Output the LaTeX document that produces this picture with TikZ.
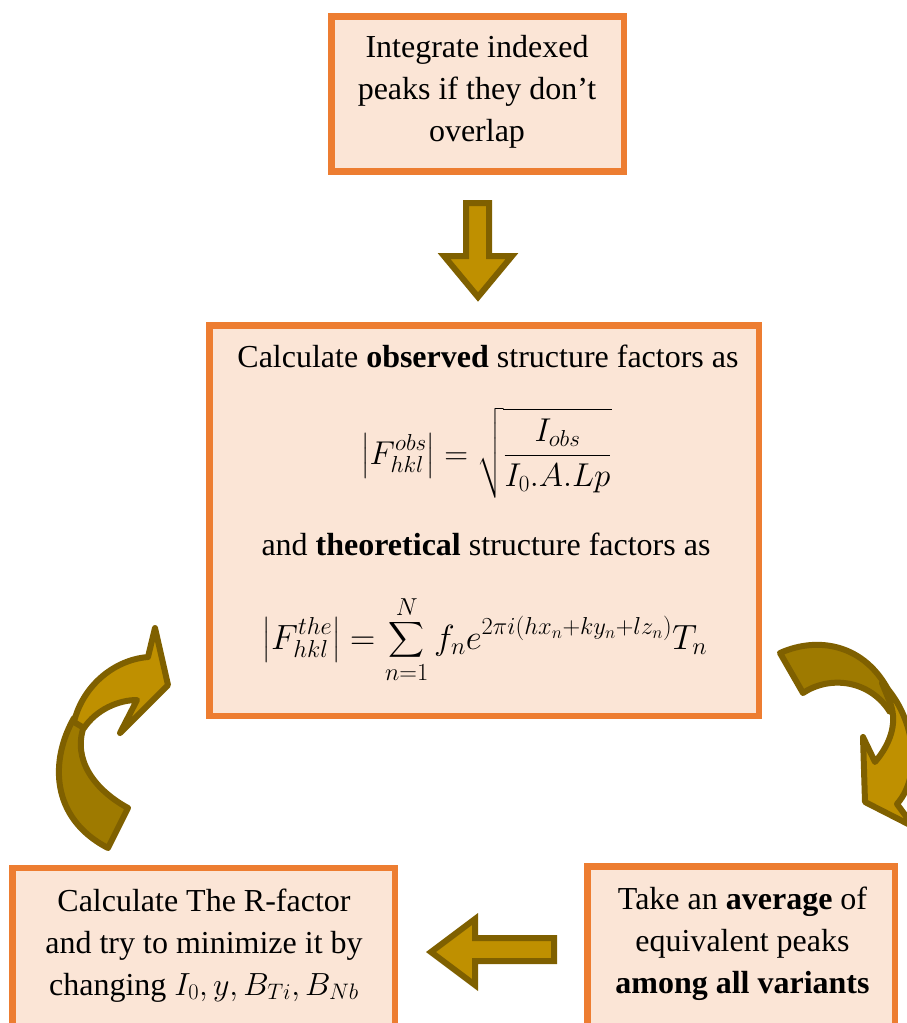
\RequirePackage{fix-cm}
\documentclass[tikz,border=0pt]{standalone}
\usepackage{amsmath}
\usepackage{fontspec}
\setmainfont{Liberation Serif}
\usetikzlibrary{positioning}
\definecolor{boxfill}{HTML}{FBE5D6}
\definecolor{boxline}{HTML}{ED7D31}
\definecolor{arrowfill}{HTML}{BF9000}
\definecolor{arrowdark}{HTML}{9E7A00}
\definecolor{arrowline}{HTML}{7F6000}
\tikzset{
  stepbox/.style={draw=boxline, fill=boxfill, line width=6.5pt, inner sep=0pt},
  blockarrow/.style={draw=arrowline, fill=arrowfill, line width=6pt},
  backarrow/.style={draw=arrowline, fill=arrowdark, line width=6pt, line join=round},
  txt/.style={font=\fontsize{32}{42}\selectfont, align=center, inner sep=0pt},
}

\begin{document}
\begin{tikzpicture}[x=1pt,y=-1pt]
\useasboundingbox (0,0) rectangle (907,1023);
\clip (0,0) rectangle (907,1023);
% the four steps
\node[stepbox, minimum width=292.5pt, minimum height=154.8pt] (integrate) at (477.75,94.1) {};
\node[stepbox, minimum width=549.5pt, minimum height=390.5pt] (calcF) at (484.25,520.75) {};
\node[stepbox, minimum width=382.3pt, minimum height=172pt] (rfactor) at (203.85,954) {};
\node[stepbox, minimum width=307.5pt, minimum height=173.5pt] (average) at (741.25,953.25) {};
% texts (base = last line)
\node[txt, anchor=base] (integrateTxt) at (477,141.7) {Integrate indexed\\peaks if they don't\\overlap};
\node[txt, anchor=base] (obsTxt) at (488,367) {Calculate \textbf{observed} structure factors as};
\node[txt, anchor=base, font=\fontsize{33}{42}\selectfont] (obsEq) at (486.5,464) {$\displaystyle \left|F_{hkl}^{obs}\right| = \sqrt{\frac{I_{obs}}{I_0.A.Lp}}$};
\node[txt, anchor=base] (theTxt) at (486,555) {and \textbf{theoretical} structure factors as};
\node[txt, anchor=base, font=\fontsize{35}{42}\selectfont] (theEq) at (485,649) {$\displaystyle \left|F_{hkl}^{the}\right| = \sum_{n=1}^{N} f_n e^{2\pi i(hx_n+ky_n+lz_n)} T_n$};
\node[txt, anchor=base] (rfactorTxt) at (204,995) {Calculate The R-factor\\and try to minimize it by\\changing $I_0, y, B_{Ti}, B_{Nb}$};
\node[txt, anchor=base] (averageTxt) at (742.5,993.3) {Take an \textbf{average} of\\equivalent peaks\\\textbf{among all variants}};
% straight block arrows
\draw[blockarrow] (466,203) -- (489,203) -- (489,256) -- (512,256) -- (478,297) -- (444,256) -- (466,256) -- cycle;
\draw[blockarrow] (554,938) -- (554,961) -- (475,961) -- (475,985) -- (431,952) -- (475,919) -- (475,938) -- cycle;
% curved arrow, left
\draw[backarrow] (74,718) .. controls (50,760) and (50,818) .. (108,848) -- (128,808) .. controls (95,790) and (72,760) .. (84,726) -- cycle;
\draw[blockarrow, line join=round] (74,722) .. controls (82,688) and (112,660) .. (148,657) -- (155,628) -- (168,685) -- (120,733) -- (137,700) .. controls (118,700) and (96,710) .. (84,728) -- cycle;
% curved arrow, right
\draw[backarrow] (780,653) .. controls (820,635) and (870,645) .. (893,700) -- (890,712) .. controls (870,680) and (830,675) .. (803,693) -- cycle;
\draw[blockarrow, line join=round] (882,683) .. controls (912,712) and (925,772) .. (897,804) -- (914,827) -- (865,802) -- (863,737) -- (875,762) .. controls (892,742) and (898,720) .. (889,700) -- cycle;
\end{tikzpicture}
\end{document}
